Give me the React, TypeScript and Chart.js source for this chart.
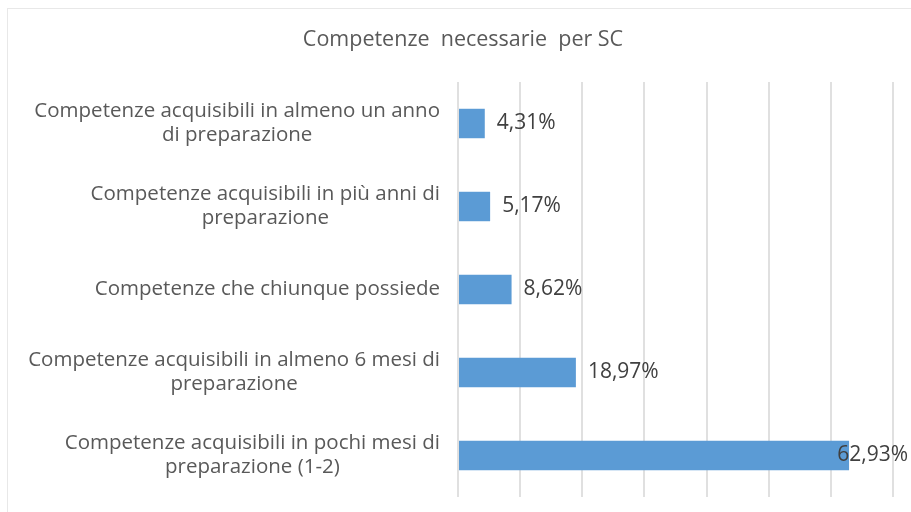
import React, { useEffect, useRef } from "react";
import { Chart, registerables } from "chart.js";

Chart.register(...registerables);

const TITLE = "Competenze  necessarie  per SC";
const categories: string[][] = [
  ["Competenze acquisibili in almeno un anno", "di preparazione"],
  ["Competenze acquisibili in più anni di", "preparazione"],
  ["Competenze che chiunque possiede"],
  ["Competenze acquisibili in almeno 6 mesi di", "preparazione"],
  ["Competenze acquisibili in pochi mesi di", "preparazione (1-2)"],
];
const values: number[] = [4.31, 5.17, 8.62, 18.97, 62.93];
const valueLabels: string[] = ["4,31%", "5,17%", "8,62%", "18,97%", "62,93%"];
const X_MIN = 0;
const X_MAX = 70;
const X_STEP = 10;

const FONT = "'Open Sans', sans-serif";
const TEXT_COLOR = "#595959";

const textPlugin = {
  id: "textPlugin",
  afterDatasetsDraw(chart: any) {
    const ctx = chart.ctx as CanvasRenderingContext2D;
    const yScale = chart.scales.y;
    const meta = chart.getDatasetMeta(0);
    ctx.save();
    // title
    ctx.fillStyle = TEXT_COLOR;
    ctx.font = `21.5px ${FONT}`;
    ctx.textAlign = "center";
    ctx.textBaseline = "middle";
    ctx.fillText(TITLE, 463, 40);

    // category labels
    ctx.font = `20.5px ${FONT}`;
    const rightEdge = 440;
    const lineH = 24;
    categories.forEach((lines, i) => {
      const yc = yScale.getPixelForValue(i);
      let w = 0;
      lines.forEach((l) => (w = Math.max(w, ctx.measureText(l).width)));
      const cx = rightEdge - w / 2;
      const y0 = yc - ((lines.length - 1) * lineH) / 2;
      lines.forEach((l, k) => {
        ctx.textAlign = "center";
        ctx.fillText(l, cx, y0 + k * lineH);
      });
    });

    // value labels
    ctx.font = `21px ${FONT}`;
    ctx.fillStyle = "#404040";
    ctx.textAlign = "left";
    meta.data.forEach((bar: any, i: number) => {
      const txt = valueLabels[i];
      const w = ctx.measureText(txt).width;
      let x = bar.x + 12;
      if (x + w > 908) x = 908 - w;
      ctx.fillText(txt, x, bar.y);
    });
    ctx.restore();
  },
};

export default function App() {
  const ref = useRef<HTMLCanvasElement | null>(null);
  useEffect(() => {
    if (!ref.current) return;
    const chart = new Chart(ref.current, {
      type: "bar",
      data: {
        labels: categories.map((c) => c.join(" ")),
        datasets: [
          {
            data: values,
            backgroundColor: "#5B9BD5",
            borderWidth: 0,
            categoryPercentage: 1,
            barPercentage: 0.355,
          },
        ],
      },
      options: {
        indexAxis: "y",
        animation: false,
        responsive: false,
        maintainAspectRatio: false,
        layout: { padding: { left: 458, right: 18, top: 82, bottom: 15 } },
        plugins: {
          legend: { display: false },
          title: { display: false },
          tooltip: { enabled: false },
        },
        scales: {
          x: {
            min: X_MIN,
            max: X_MAX,
            ticks: { display: false, stepSize: X_STEP },
            grid: { color: "#e0e0e0", lineWidth: 2, drawTicks: false },
            border: { display: false },
          },
          y: {
            ticks: { display: false },
            grid: { display: false, drawTicks: false },
            border: { display: false },
          },
        },
      },
      plugins: [textPlugin],
    });
    return () => chart.destroy();
  }, []);
  return (
    <div style={{ position: "fixed", left: 0, top: 0, width: 911, height: 512, background: "#fff", overflow: "hidden" }}>
      <div
        style={{
          position: "absolute",
          left: 7,
          top: 8,
          width: 920,
          height: 520,
          border: "1px solid #e8e8e8",
        }}
      />
      <canvas ref={ref} width={911} height={512} style={{ position: "absolute", left: 0, top: 0 }} />
    </div>
  );
}
